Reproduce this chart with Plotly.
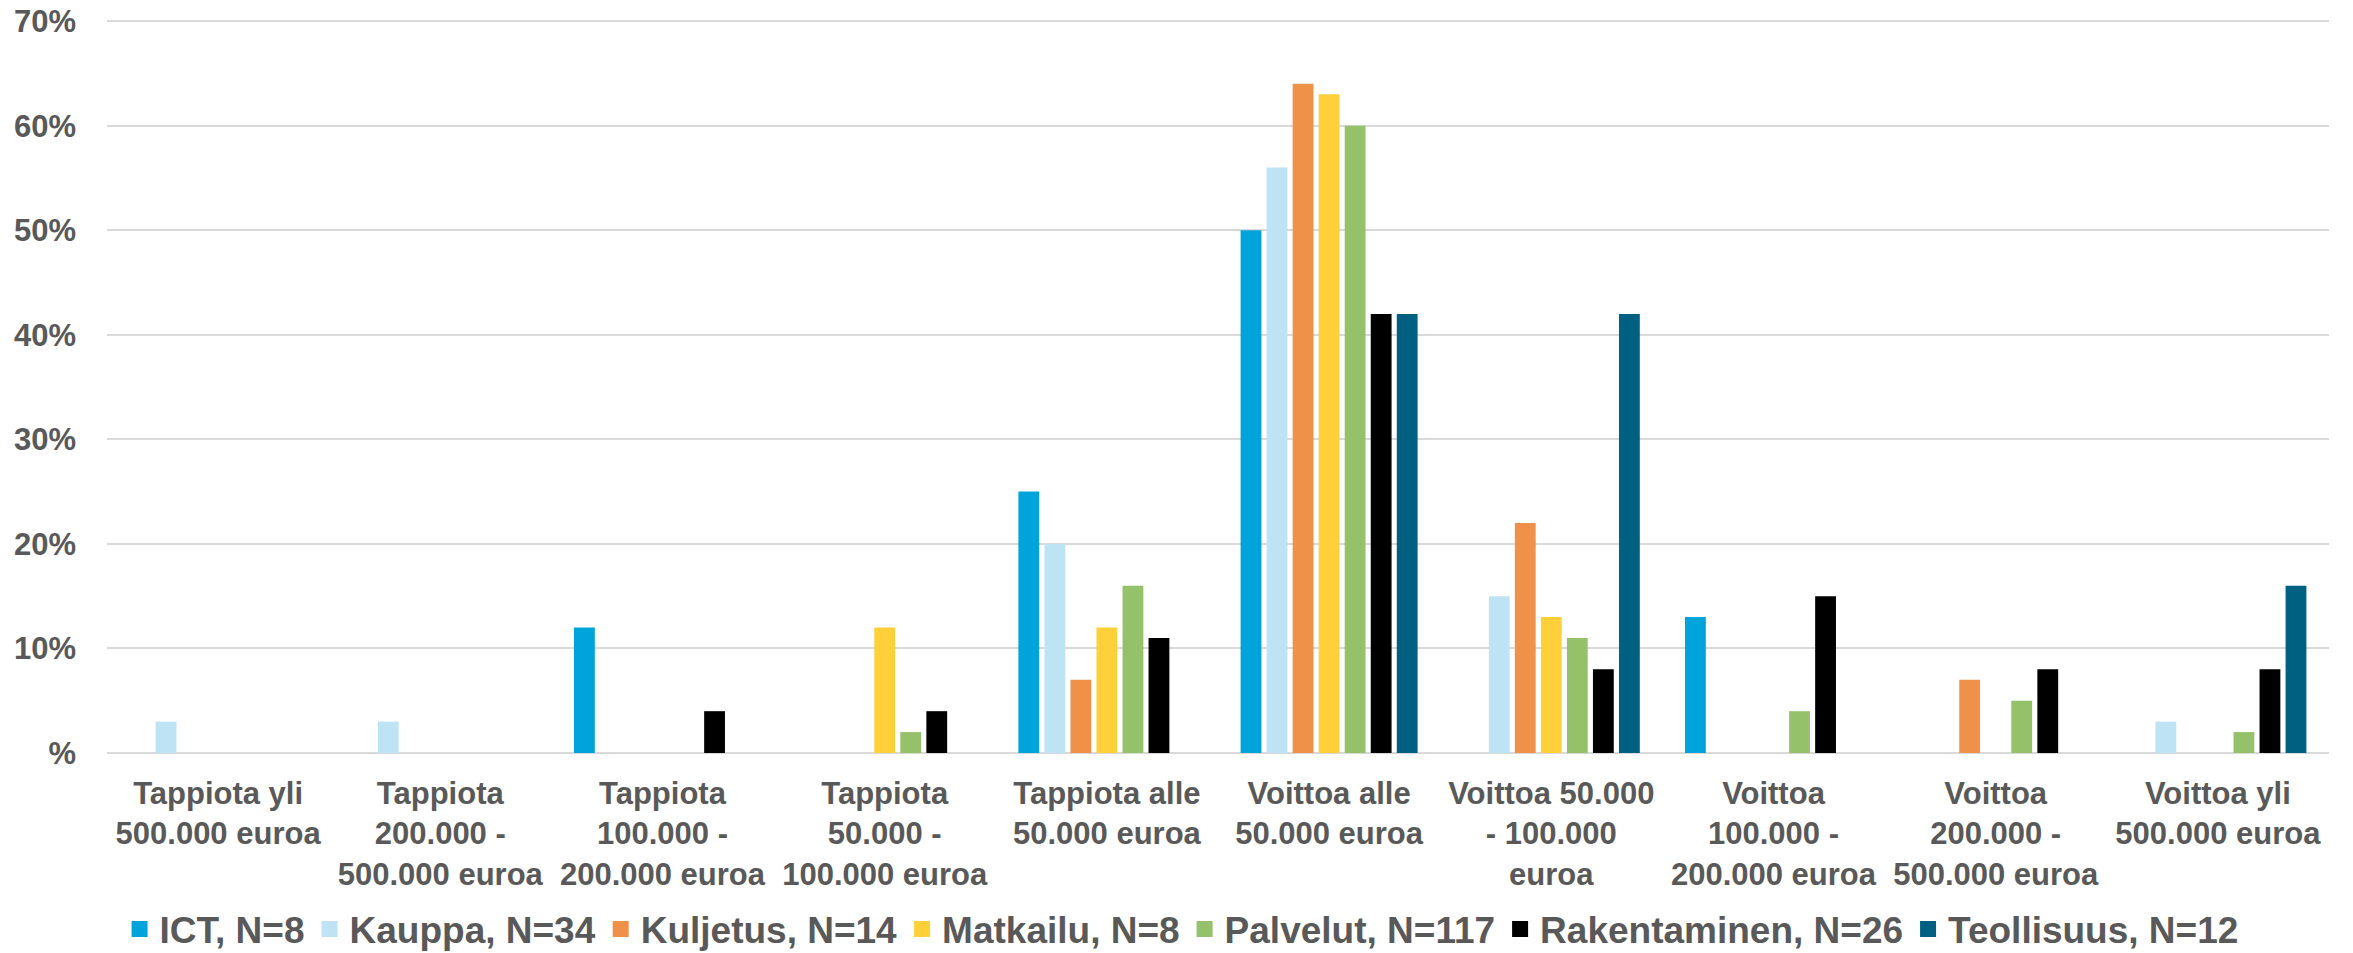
import plotly.graph_objects as go

categories = [
    "Tappiota yli<br>500.000 euroa",
    "Tappiota<br>200.000 -<br>500.000 euroa",
    "Tappiota<br>100.000 -<br>200.000 euroa",
    "Tappiota<br>50.000 -<br>100.000 euroa",
    "Tappiota alle<br>50.000 euroa",
    "Voittoa alle<br>50.000 euroa",
    "Voittoa 50.000<br>- 100.000<br>euroa",
    "Voittoa<br>100.000 -<br>200.000 euroa",
    "Voittoa<br>200.000 -<br>500.000 euroa",
    "Voittoa yli<br>500.000 euroa",
]

series_names = [
    "ICT, N=8",
    "Kauppa, N=34",
    "Kuljetus, N=14",
    "Matkailu, N=8",
    "Palvelut, N=117",
    "Rakentaminen, N=26",
    "Teollisuus, N=12",
]

ict = [0, 0, 12, 0, 25, 50, 0, 13, 0, 0]
kauppa = [3, 3, 0, 0, 20, 56, 15, 0, 0, 3]
kuljetus = [0, 0, 0, 0, 7, 64, 22, 0, 7, 0]
matkailu = [0, 0, 0, 12, 12, 63, 13, 0, 0, 0]
palvelut = [0, 0, 0, 2, 16, 60, 11, 4, 5, 2]
rakentaminen = [0, 0, 4, 4, 11, 42, 8, 15, 8, 8]
teollisuus = [0, 0, 0, 0, 0, 42, 42, 0, 0, 16]

series_values = [ict, kauppa, kuljetus, matkailu, palvelut, rakentaminen, teollisuus]
colors = ["#00A3DA", "#BDE3F4", "#F0914A", "#FFD039", "#95C16A", "#000000", "#006082"]

y_tickvals = [0, 10, 20, 30, 40, 50, 60, 70]
y_ticktext = ["%", "10%", "20%", "30%", "40%", "50%", "60%", "70%"]

text_color = "#595959"
font_family = "Arial, Liberation Sans, sans-serif"

fig = go.Figure()
for name, vals, col in zip(series_names, series_values, colors):
    fig.add_trace(go.Bar(
        x=categories, y=vals, name=name, marker_color=col,
        marker_line_width=0, showlegend=False,
    ))
# legend entries with larger square markers
for name, col in zip(series_names, colors):
    fig.add_trace(go.Scatter(
        x=[None], y=[None], mode="markers", name=name,
        marker=dict(symbol="square", size=19, color=col),
        showlegend=True,
    ))

fig.update_layout(
    width=2345, height=945,
    margin=dict(l=99, r=24, t=10, b=200, autoexpand=False),
    paper_bgcolor="white", plot_bgcolor="white",
    barmode="group", bargap=0.18, bargroupgap=0.2,
    font=dict(family=font_family, color=text_color, size=31, weight="bold"),
    legend=dict(
        orientation="h", x=0.4836, xanchor="center", y=-0.24, yanchor="middle",
        font=dict(size=37, color=text_color, family=font_family, weight="bold"),
        itemwidth=30, traceorder="normal",
    ),
    xaxis=dict(
        showgrid=False, ticks="", showline=False, zeroline=False,
        tickfont=dict(size=31, color=text_color, family=font_family, weight="bold"),
        ticklabelstandoff=19, automargin=False,
    ),
    yaxis=dict(
        range=[0, 70.3], tickvals=y_tickvals, ticktext=y_ticktext,
        showgrid=True, gridcolor="#D9D9D9", gridwidth=2,
        zeroline=True, zerolinecolor="#D9D9D9", zerolinewidth=2,
        ticks="", showline=False, automargin=False,
        ticklabeloverflow="allow",
        tickfont=dict(size=31, color=text_color, family=font_family, weight="bold"),
        ticklabelstandoff=30,
    ),
)

fig.write_html("out.html")
